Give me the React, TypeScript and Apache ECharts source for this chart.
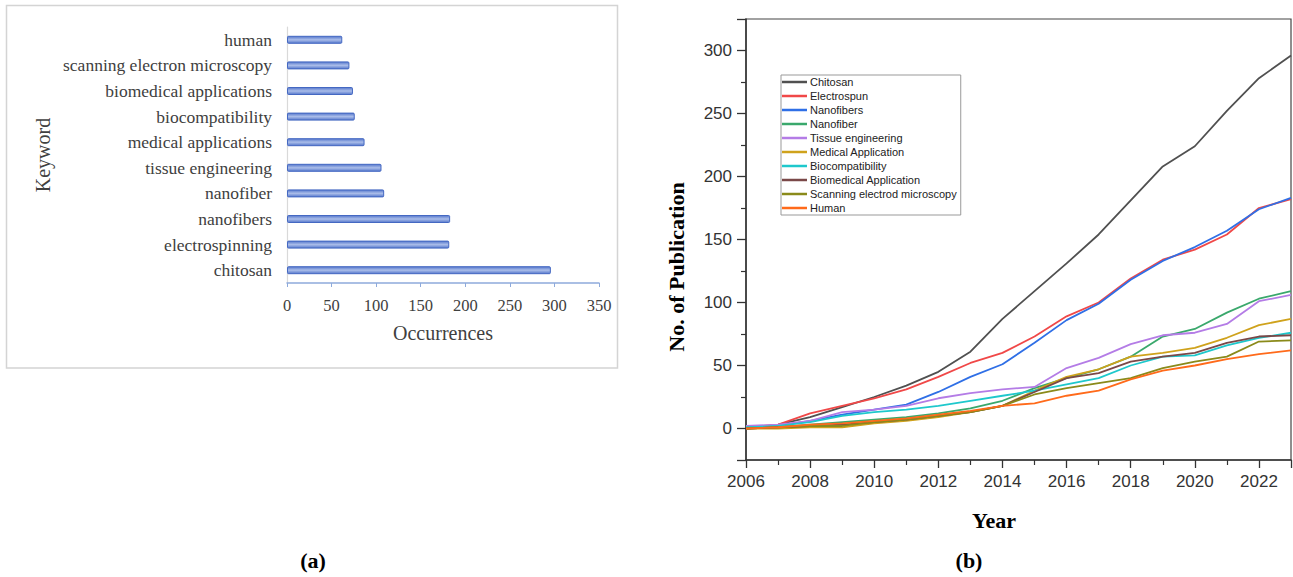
import React, { useEffect, useRef } from "react";
import * as echarts from "echarts";

// ---- Panel (a): keyword occurrences ----
const keywords = [
  "chitosan",
  "electrospinning",
  "nanofibers",
  "nanofiber",
  "tissue engineering",
  "medical applications",
  "biocompatibility",
  "biomedical applications",
  "scanning electron microscopy",
  "human",
];
const occurrences = [296, 182, 183, 109, 106, 87, 76, 74, 70, 62];

// ---- Panel (b): publications per year ----
const years = [2006, 2007, 2008, 2009, 2010, 2011, 2012, 2013, 2014, 2015, 2016, 2017, 2018, 2019, 2020, 2021, 2022, 2023];
const seriesNames = [
  "Chitosan",
  "Electrospun",
  "Nanofibers",
  "Nanofiber",
  "Tissue engineering",
  "Medical Application",
  "Biocompatibility",
  "Biomedical Application",
  "Scanning electrod microscopy",
  "Human",
];
const chitosan = [0, 3, 9, 17, 25, 34, 45, 61, 87, 109, 131, 154, 181, 208, 224, 252, 278, 296];
const electrospun = [1, 3, 12, 18, 24, 31, 41, 52, 60, 73, 89, 100, 119, 134, 142, 154, 175, 182];
const nanofibers = [0, 2, 6, 11, 15, 19, 29, 41, 51, 68, 86, 99, 118, 133, 144, 157, 174, 183];
const nanofiber = [0, 1, 3, 5, 7, 9, 12, 16, 22, 32, 40, 47, 57, 73, 79, 92, 103, 109];
const tissueEngineering = [2, 3, 6, 13, 15, 18, 24, 28, 31, 33, 48, 56, 67, 74, 76, 83, 101, 106];
const medicalApplication = [0, 0, 1, 1, 4, 6, 9, 13, 18, 30, 41, 47, 57, 60, 64, 72, 82, 87];
const biocompatibility = [1, 2, 5, 10, 13, 15, 18, 22, 26, 30, 35, 40, 50, 57, 58, 66, 72, 76];
const biomedicalApplication = [0, 1, 2, 3, 5, 7, 10, 13, 18, 29, 40, 44, 53, 57, 60, 68, 73, 74];
const scanningMicroscopy = [0, 1, 2, 2, 5, 7, 10, 13, 18, 27, 32, 36, 40, 48, 53, 57, 69, 70];
const human = [0, 1, 3, 4, 6, 8, 11, 14, 18, 20, 26, 30, 39, 46, 50, 55, 59, 62];
const seriesValues = [
  chitosan,
  electrospun,
  nanofibers,
  nanofiber,
  tissueEngineering,
  medicalApplication,
  biocompatibility,
  biomedicalApplication,
  scanningMicroscopy,
  human,
];
const seriesColors = [
  "#505050",
  "#f04848",
  "#2f6fe6",
  "#3aa86c",
  "#b47ce6",
  "#cfa21c",
  "#1ec8cc",
  "#7a4848",
  "#8a8a1a",
  "#ff6a1a",
];

const SERIF = '"Liberation Serif", "Times New Roman", serif';
const SANS = '"Liberation Sans", Arial, sans-serif';

export default function App() {
  const ref = useRef<HTMLDivElement>(null);

  useEffect(() => {
    if (!ref.current) return;
    const chart = echarts.init(ref.current, undefined, { renderer: "svg" });

    const lineSeries = seriesNames.map((name, i) => ({
      name,
      type: "line",
      xAxisIndex: 1,
      yAxisIndex: 1,
      symbol: "none",
      color: seriesColors[i],
      lineStyle: { width: 1.8, color: seriesColors[i] },
      data: years.map((y, j) => [y, seriesValues[i][j]]),
    }));

    chart.setOption({
      animation: false,
      backgroundColor: "#ffffff",
      grid: [
        { left: 287, width: 312, top: 27, height: 256, containLabel: false },
        {
          left: 746,
          right: 2,
          top: 19,
          bottom: 117,
          containLabel: false,
          show: true,
          borderColor: "#444444",
          borderWidth: 1.2,
        },
      ],
      xAxis: [
        {
          gridIndex: 0,
          type: "value",
          min: 0,
          max: 350,
          interval: 50,
          axisLine: { show: true, lineStyle: { color: "#8eaadb", width: 1.5 } },
          axisTick: { show: true, length: 4, lineStyle: { color: "#8eaadb" } },
          axisLabel: { fontFamily: SERIF, fontSize: 16.5, color: "#404040", margin: 14 },
          splitLine: { show: false },
        },
        {
          gridIndex: 1,
          type: "value",
          min: 2006,
          max: 2023,
          interval: 2,
          axisLine: { show: true, onZero: false, lineStyle: { color: "#333333", width: 1.5 } },
          axisTick: { show: true, length: 8, lineStyle: { color: "#333333", width: 1.3 } },
          minorTick: { show: true, splitNumber: 2, length: 5, lineStyle: { color: "#333333", width: 1.2 } },
          axisLabel: {
            fontFamily: SANS,
            fontSize: 17,
            color: "#333333",
            margin: 13,
            showMaxLabel: false,
            formatter: (v: number) => String(v),
          },
          splitLine: { show: false },
        },
      ],
      yAxis: [
        {
          gridIndex: 0,
          type: "category",
          data: keywords,
          axisLine: { show: true, lineStyle: { color: "#d9d9d9", width: 1.2 } },
          axisTick: { show: false },
          axisLabel: { fontFamily: SERIF, fontSize: 17.5, color: "#404040", margin: 15 },
        },
        {
          gridIndex: 1,
          type: "value",
          min: -25,
          max: 325,
          splitNumber: 7,
          axisLine: { show: true, onZero: false, lineStyle: { color: "#333333", width: 1.5 } },
          axisTick: { show: true, length: 9, lineStyle: { color: "#333333", width: 1.3 } },
          minorTick: { show: true, splitNumber: 2, length: 5, lineStyle: { color: "#333333", width: 1.2 } },
          axisLabel: {
            fontFamily: SANS,
            fontSize: 17,
            color: "#333333",
            margin: 14,
            showMinLabel: false,
            showMaxLabel: false,
          },
          splitLine: { show: false },
        },
      ],
      legend: {
        show: true,
        orient: "vertical",
        left: 781,
        top: 75,
        padding: [0, 4, 0, 1],
        itemGap: 0,
        itemWidth: 25,
        itemHeight: 2.5,
        icon: "rect",
        borderColor: "#999999",
        borderWidth: 1,
        backgroundColor: "#ffffff",
        data: seriesNames,
        textStyle: { fontFamily: SANS, fontSize: 11, color: "#222222", lineHeight: 14, padding: [0, 0, 0, -2] },
      },
      series: [
        {
          name: "Occurrences",
          type: "bar",
          xAxisIndex: 0,
          yAxisIndex: 0,
          barWidth: 8,
          data: occurrences,
          itemStyle: {
            color: new echarts.graphic.LinearGradient(0, 0, 0, 1, [
              { offset: 0, color: "#5577cc" },
              { offset: 0.5, color: "#aabde9" },
              { offset: 1, color: "#5577cc" },
            ]),
            borderColor: "#4468c2",
            borderWidth: 1,
            borderRadius: 1,
          },
        },
        ...lineSeries,
      ],
      graphic: [
        {
          type: "rect",
          silent: true,
          shape: { x: 6.5, y: 5.5, width: 611, height: 362.5 },
          style: { fill: "none", stroke: "#d4d4d4", lineWidth: 1.5 },
        },
        {
          type: "text",
          x: 43,
          y: 155,
          rotation: Math.PI / 2,
          style: { text: "Keyword", font: `20px ${SERIF}`, fill: "#404040", align: "center", verticalAlign: "middle" },
        },
        {
          type: "text",
          x: 443,
          y: 333,
          style: { text: "Occurrences", font: `20px ${SERIF}`, fill: "#404040", align: "center", verticalAlign: "middle" },
        },
        {
          type: "text",
          x: 313,
          y: 560,
          style: { text: "(a)", font: `bold 22px ${SERIF}`, fill: "#000000", align: "center", verticalAlign: "middle" },
        },
        {
          type: "text",
          x: 969,
          y: 560,
          style: { text: "(b)", font: `bold 22px ${SERIF}`, fill: "#000000", align: "center", verticalAlign: "middle" },
        },
        {
          type: "text",
          x: 994,
          y: 520,
          style: { text: "Year", font: `bold 22px ${SERIF}`, fill: "#000000", align: "center", verticalAlign: "middle" },
        },
        {
          type: "text",
          x: 676,
          y: 267,
          rotation: Math.PI / 2,
          style: {
            text: "No. of Publication",
            font: `bold 22px ${SERIF}`,
            fill: "#000000",
            align: "center",
            verticalAlign: "middle",
          },
        },
      ],
    });

    return () => chart.dispose();
  }, []);

  return (
    <div
      ref={ref}
      style={{ position: "fixed", left: 0, top: 0, width: 1293, height: 577, background: "#ffffff" }}
    />
  );
}
